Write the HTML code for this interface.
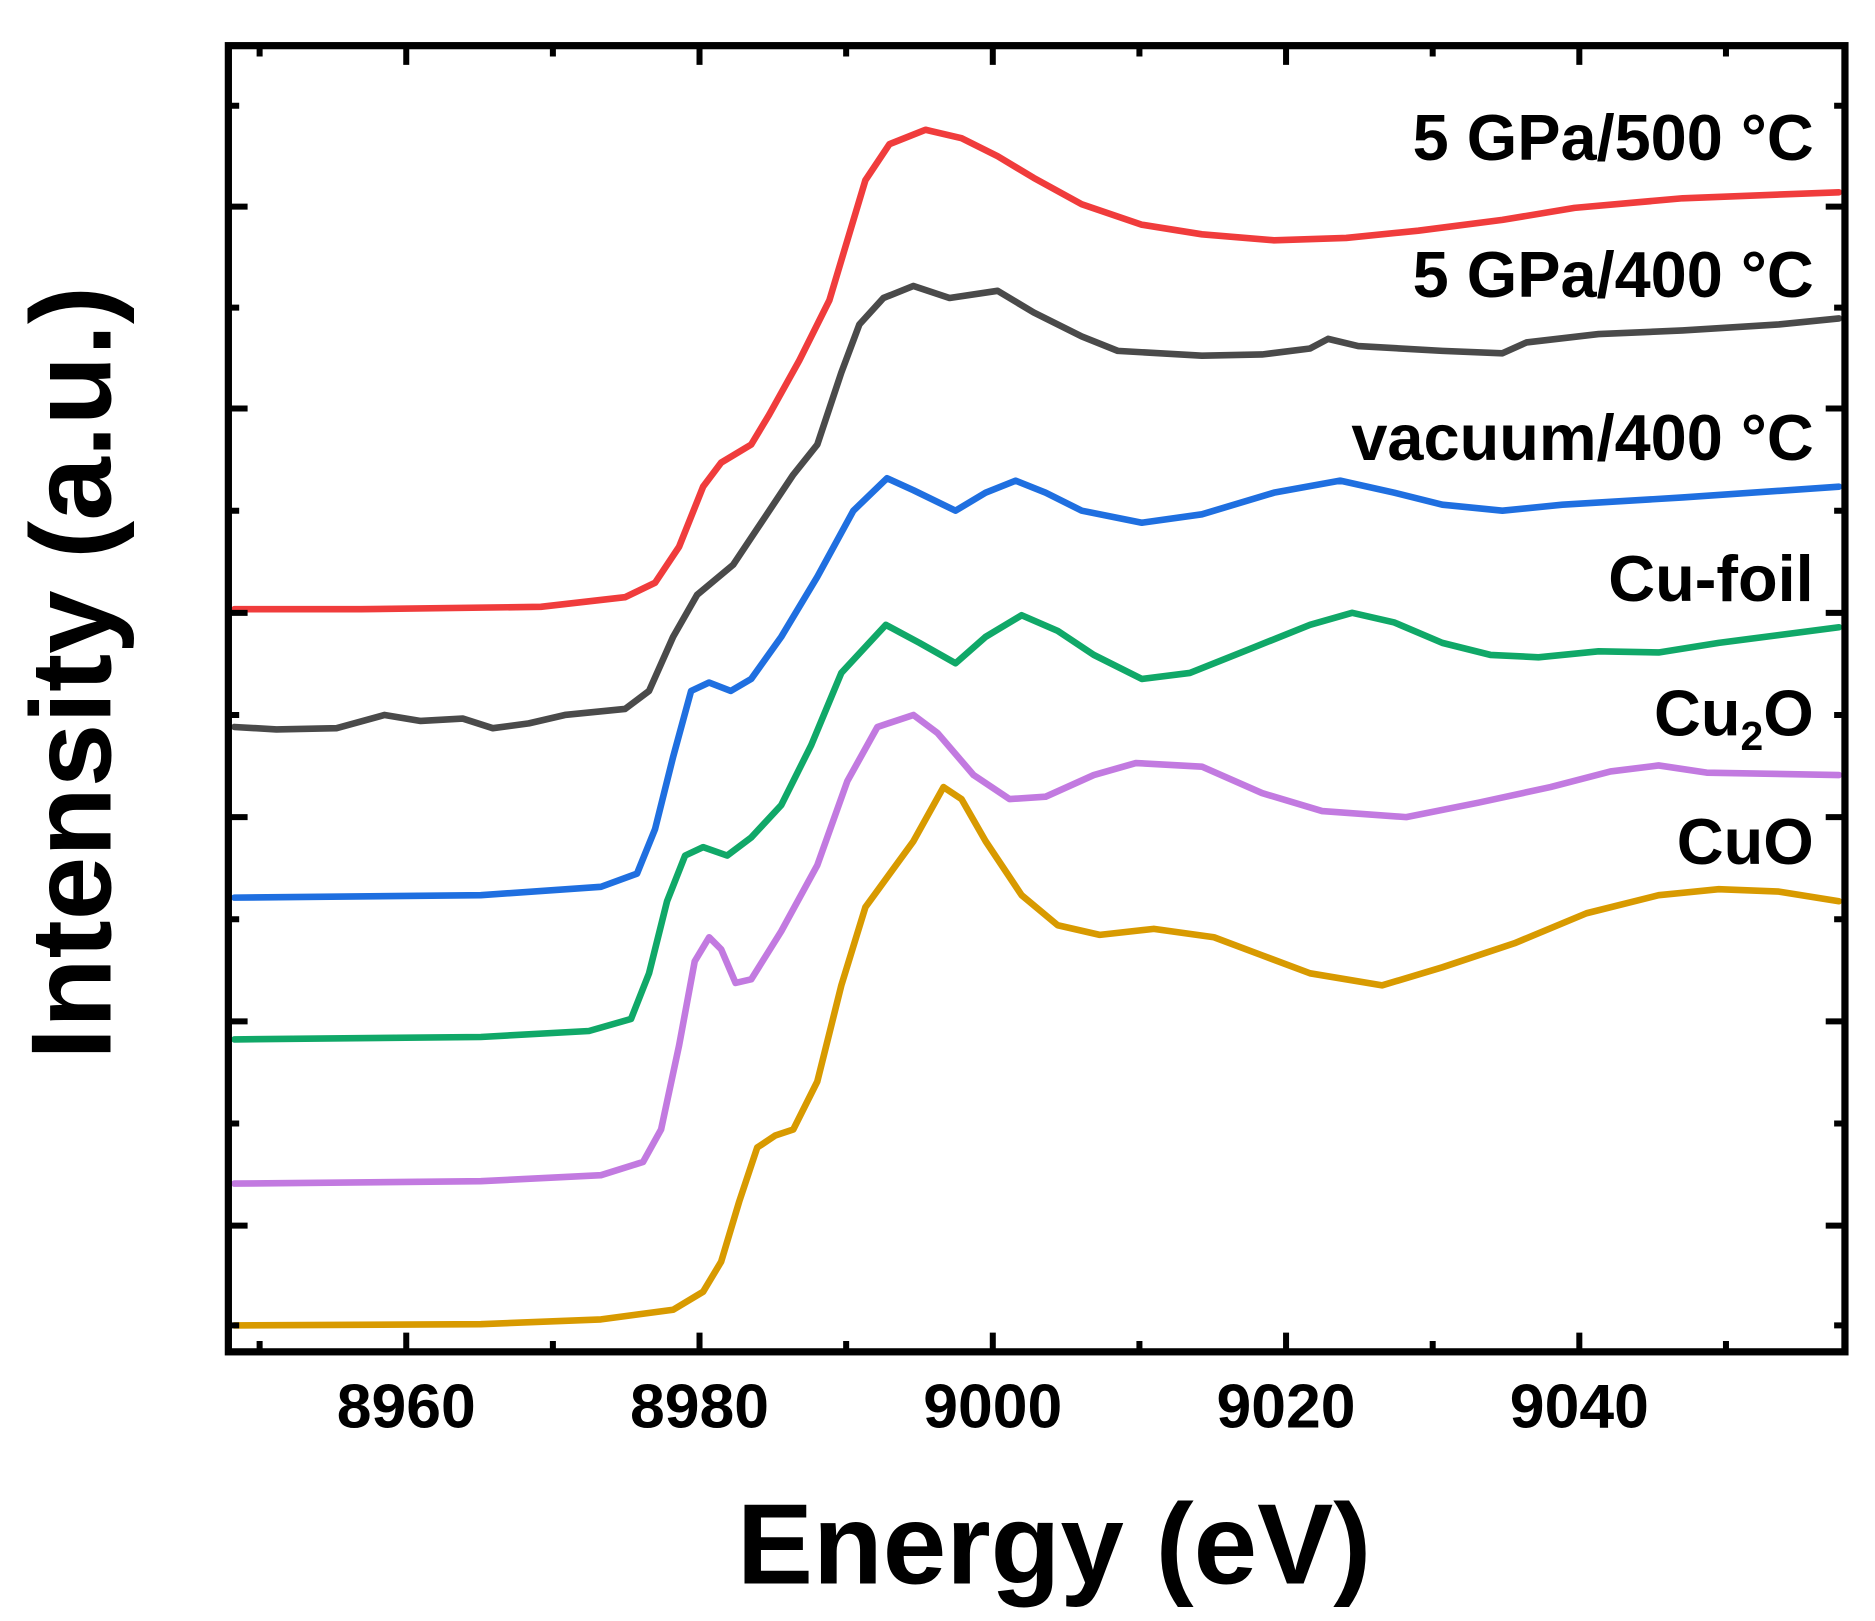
<!DOCTYPE html>
<html><head><style>html,body{margin:0;padding:0;background:#fff}svg{display:block}</style></head><body>
<svg width="1875" height="1621" viewBox="0 0 1560 1349" preserveAspectRatio="none" xmlns="http://www.w3.org/2000/svg" font-family="Liberation Sans, Arial, sans-serif" font-weight="bold">
<g fill="none" stroke-width="5.5" stroke-linejoin="round" stroke-linecap="round">
<polyline stroke="#f03c3c" points="195,507 300,507 450,505 520,497 545,485 565,455 585,405 600,385 625,370 640,345 665,300 690,250 705,200 720,150 740,120 770,108 800,115 830,130 860,148 900,170 950,187 1000,195 1060,200 1120,198 1180,192 1250,183 1310,173 1400,165 1530,160"/>
<polyline stroke="#4a4a4a" points="195,605 230,607 280,606 320,595 350,600 385,598 410,606 440,602 470,595 520,590 540,575 560,530 580,495 610,470 630,440 660,395 680,370 700,310 715,270 735,248 760,238 790,248 830,242 860,260 900,280 930,292 1000,296 1050,295 1090,290 1105,282 1130,288 1200,292 1250,294 1270,285 1330,278 1400,275 1480,270 1530,265"/>
<polyline stroke="#1f6fe0" points="195,747 400,745 500,738 530,727 545,690 560,630 575,575 590,568 608,575 625,565 650,530 680,480 710,425 738,398 760,408 795,425 820,410 845,400 870,410 900,425 950,435 1000,428 1060,410 1115,400 1160,410 1200,420 1250,425 1300,420 1400,414 1530,405"/>
<polyline stroke="#10a868" points="195,865 400,863 490,858 525,848 540,810 555,750 570,712 585,705 605,712 625,697 650,670 675,620 700,560 737,520 765,535 795,552 820,530 850,512 880,525 910,545 950,565 990,560 1040,540 1090,520 1125,510 1160,518 1200,535 1240,545 1280,547 1330,542 1380,543 1430,535 1530,522"/>
<polyline stroke="#c27ae0" points="195,985 400,983 500,978 535,967 550,940 565,870 578,800 590,780 600,790 612,818 625,815 650,775 680,720 705,650 730,605 760,595 780,610 810,645 840,665 870,663 910,645 945,635 1000,638 1050,660 1100,675 1170,680 1230,668 1290,655 1340,642 1380,637 1420,643 1530,645"/>
<polyline stroke="#d89a00" points="195,1103 400,1102 500,1098 560,1090 585,1075 600,1050 615,1000 630,955 645,945 660,940 680,900 700,820 720,755 760,700 785,655 800,665 820,700 850,745 880,770 915,778 960,773 1010,780 1050,795 1090,810 1150,820 1200,805 1260,785 1320,760 1380,745 1430,740 1480,742 1530,750"/>
</g>
<rect x="190" y="38" width="1345" height="1087" fill="none" stroke="#000" stroke-width="6"/>
<g stroke="#000" stroke-width="5">
<path d="M338,1125v-16M582,1125v-16M826,1125v-16M1070,1125v-16M1314,1125v-16M338,38v16M582,38v16M826,38v16M1070,38v16M1314,38v16"/>
<path d="M216,1125v-9M460,1125v-9M704,1125v-9M948,1125v-9M1192,1125v-9M1436,1125v-9M216,38v9M460,38v9M704,38v9M948,38v9M1192,38v9M1436,38v9"/>
<path d="M190,172h16M190,340h16M190,510h16M190,680h16M190,850h16M190,1020h16M1535,172h-16M1535,340h-16M1535,510h-16M1535,680h-16M1535,850h-16M1535,1020h-16"/>
<path d="M190,88h9M190,256h9M190,425h9M190,595h9M190,765h9M190,935h9M190,1103h9M1535,88h-9M1535,256h-9M1535,425h-9M1535,595h-9M1535,765h-9M1535,935h-9M1535,1103h-9"/>
</g>
<g font-size="52" text-anchor="middle">
<text x="338" y="1188">8960</text><text x="582" y="1188">8980</text><text x="826" y="1188">9000</text><text x="1070" y="1188">9020</text><text x="1314" y="1188">9040</text>
</g>
<g font-size="54" text-anchor="end">
<text x="1509" y="133">5 GPa/500 °C</text>
<text x="1509" y="247">5 GPa/400 °C</text>
<text x="1509" y="383">vacuum/400 °C</text>
<text x="1509" y="500">Cu-foil</text>
<text x="1509" y="612">Cu<tspan font-size="34" dy="12">2</tspan><tspan dy="-12">O</tspan></text>
<text x="1509" y="719">CuO</text>
</g>
<text x="877" y="1318" font-size="95" text-anchor="middle">Energy (eV)</text>
<text transform="translate(92,560) rotate(-90)" font-size="95" text-anchor="middle">Intensity (a.u.)</text>
</svg>
</body></html>
